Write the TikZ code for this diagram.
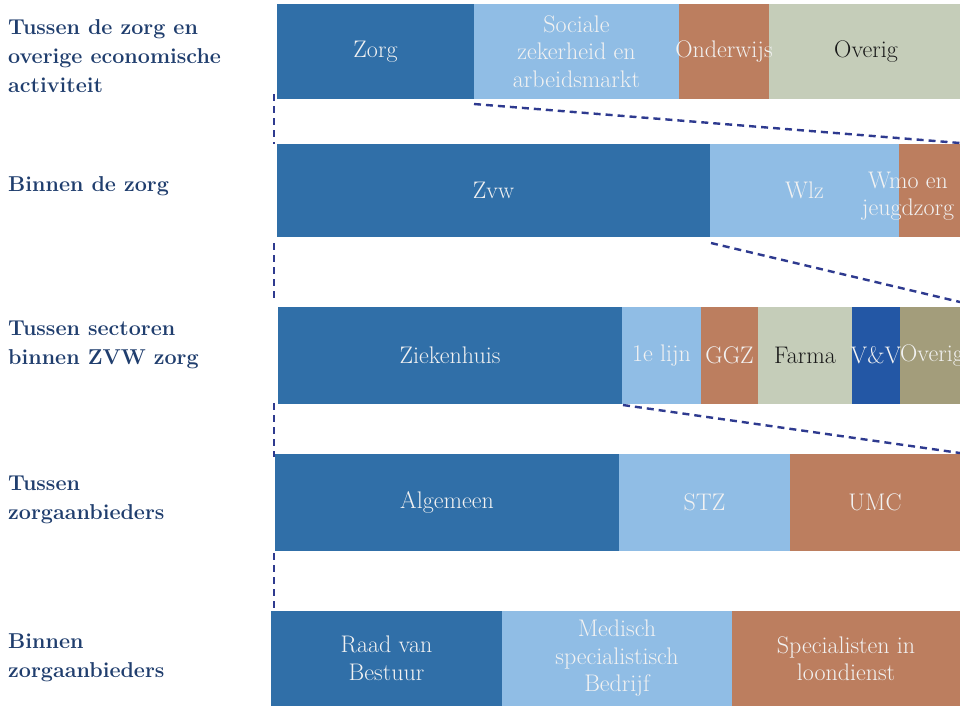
\documentclass[tikz,border=0pt]{standalone}
\usepackage{fontspec}
\definecolor{cdark}{HTML}{306FA8}
\definecolor{clight}{HTML}{90BDE5}
\definecolor{cterra}{HTML}{BC7E5F}
\definecolor{csage}{HTML}{C5CDB9}
\definecolor{cvv}{HTML}{2357A5}
\definecolor{ckhaki}{HTML}{A39D7B}
\definecolor{clabel}{HTML}{203E6E}
\definecolor{cdash}{HTML}{2E3A8F}
\definecolor{ctext}{HTML}{F2F2F2}
\tikzset{
  seg/.style={draw=none, inner sep=0pt, outer sep=0pt, anchor=north west},
  segtxt/.style={inner sep=0pt, text=ctext, align=center, font=\fontsize{24}{27.5}\selectfont},
  darktxt/.style={segtxt, text=black!90},
  rowlabel/.style={inner sep=0pt, anchor=west, align=left, text=clabel, font=\fontsize{21.5}{29}\selectfont\bfseries},
  conn/.style={draw=cdash, line width=2.4pt, dash pattern=on 7pt off 5pt}
}
\begin{document}
\begin{tikzpicture}[x=1pt,y=-1pt]
\clip (0,0) rectangle (960,705);
\fill[white] (0,0) rectangle (960,705);
% row 1
\node[seg, fill=cdark,  minimum width=197pt, minimum height=95pt] (r1a) at (277,4) {};
\node[seg, fill=clight, minimum width=205pt, minimum height=95pt] (r1b) at (474,4) {};
\node[seg, fill=cterra, minimum width=90pt,  minimum height=95pt] (r1c) at (679,4) {};
\node[seg, fill=csage,  minimum width=200pt, minimum height=95pt] (r1d) at (769,4) {};
\node[segtxt] (t1a) at (r1a.center) {Zorg};
\node[segtxt] (t1b) at (r1b.center) {Sociale\\zekerheid en\\arbeidsmarkt};
\node[segtxt] (t1c) at (r1c.center) {Onderwijs};
\node[darktxt] (t1d) at (866,52) {Overig};
% row 2
\node[seg, fill=cdark,  minimum width=433pt, minimum height=93pt] (r2a) at (277,144) {};
\node[seg, fill=clight, minimum width=189pt, minimum height=93pt] (r2b) at (710,144) {};
\node[seg, fill=cterra, minimum width=80pt,  minimum height=93pt] (r2c) at (899,144) {};
\node[segtxt] (t2a) at (r2a.center) {Zvw};
\node[segtxt] (t2b) at (r2b.center) {Wlz};
\node[segtxt] (t2c) at (908,196) {Wmo en\\jeugdzorg};
% row 3
\node[seg, fill=cdark,  minimum width=344pt, minimum height=97pt] (r3a) at (278,307) {};
\node[seg, fill=clight, minimum width=79pt,  minimum height=97pt] (r3b) at (622,307) {};
\node[seg, fill=cterra, minimum width=57pt,  minimum height=97pt] (r3c) at (701,307) {};
\node[seg, fill=csage,  minimum width=94pt,  minimum height=97pt] (r3d) at (758,307) {};
\node[seg, fill=cvv,    minimum width=48pt,  minimum height=97pt] (r3e) at (852,307) {};
\node[seg, fill=ckhaki, minimum width=80pt,  minimum height=97pt] (r3f) at (900,307) {};
\node[segtxt] (t3a) at (r3a.center) {Ziekenhuis};
\node[segtxt] (t3b) at (r3b.center) {1e lijn};
\node[segtxt] (t3c) at (r3c.center) {GGZ};
\node[darktxt] (t3d) at (r3d.center) {Farma};
\node[segtxt] (t3e) at (r3e.center) {V\&V};
\node[segtxt, anchor=west] (t3f) at (900,355.5) {Overig};
% row 4
\node[seg, fill=cdark,  minimum width=344pt, minimum height=97pt] (r4a) at (275,454) {};
\node[seg, fill=clight, minimum width=171pt, minimum height=97pt] (r4b) at (619,454) {};
\node[seg, fill=cterra, minimum width=180pt, minimum height=97pt] (r4c) at (790,454) {};
\node[segtxt] (t4a) at (r4a.center) {Algemeen};
\node[segtxt] (t4b) at (r4b.center) {STZ};
\node[segtxt] (t4c) at (875,502.5) {UMC};
% row 5
\node[seg, fill=cdark,  minimum width=231pt, minimum height=100pt] (r5a) at (271,611) {};
\node[seg, fill=clight, minimum width=230pt, minimum height=100pt] (r5b) at (502,611) {};
\node[seg, fill=cterra, minimum width=240pt, minimum height=100pt] (r5c) at (732,611) {};
\node[segtxt] (t5a) at (386.5,658.5) {Raad van\\Bestuur};
\node[segtxt] (t5b) at (617,658.5) {Medisch\\specialistisch\\Bedrijf};
\node[segtxt] (t5c) at (846,658.5) {Specialisten in\\loondienst};
% row labels
\node[rowlabel] (l1) at (8,56) {Tussen de zorg en\\overige economische\\activiteit};
\node[rowlabel] (l2) at (8,186) {Binnen de zorg};
\node[rowlabel] (l3) at (8,345) {Tussen sectoren\\binnen ZVW zorg};
\node[rowlabel] (l4) at (8,500) {Tussen\\zorgaanbieders};
\node[rowlabel] (l5) at (8,658) {Binnen\\zorgaanbieders};
% connectors
\coordinate (e1) at (960,143);
\coordinate (e2) at (960,302);
\coordinate (e3) at (960,453);
\coordinate (v1a) at (274,94);  \coordinate (v1b) at (274,144);
\coordinate (v2a) at (274,243); \coordinate (v2b) at (274,300);
\coordinate (v3a) at (274,403); \coordinate (v3b) at (274,457);
\coordinate (v4a) at (274,553); \coordinate (v4b) at (274,609);
\draw[conn] ([yshift=-5pt]r1a.south east) -- (e1);
\draw[conn] ([xshift=1pt,yshift=-6pt]r2a.south east) -- (e2);
\draw[conn] ([xshift=1pt,yshift=-1pt]r3a.south east) -- (e3);
\draw[conn] (v1a) -- (v1b);
\draw[conn] (v2a) -- (v2b);
\draw[conn] (v3a) -- (v3b);
\draw[conn] (v4a) -- (v4b);
\end{tikzpicture}
\end{document}
